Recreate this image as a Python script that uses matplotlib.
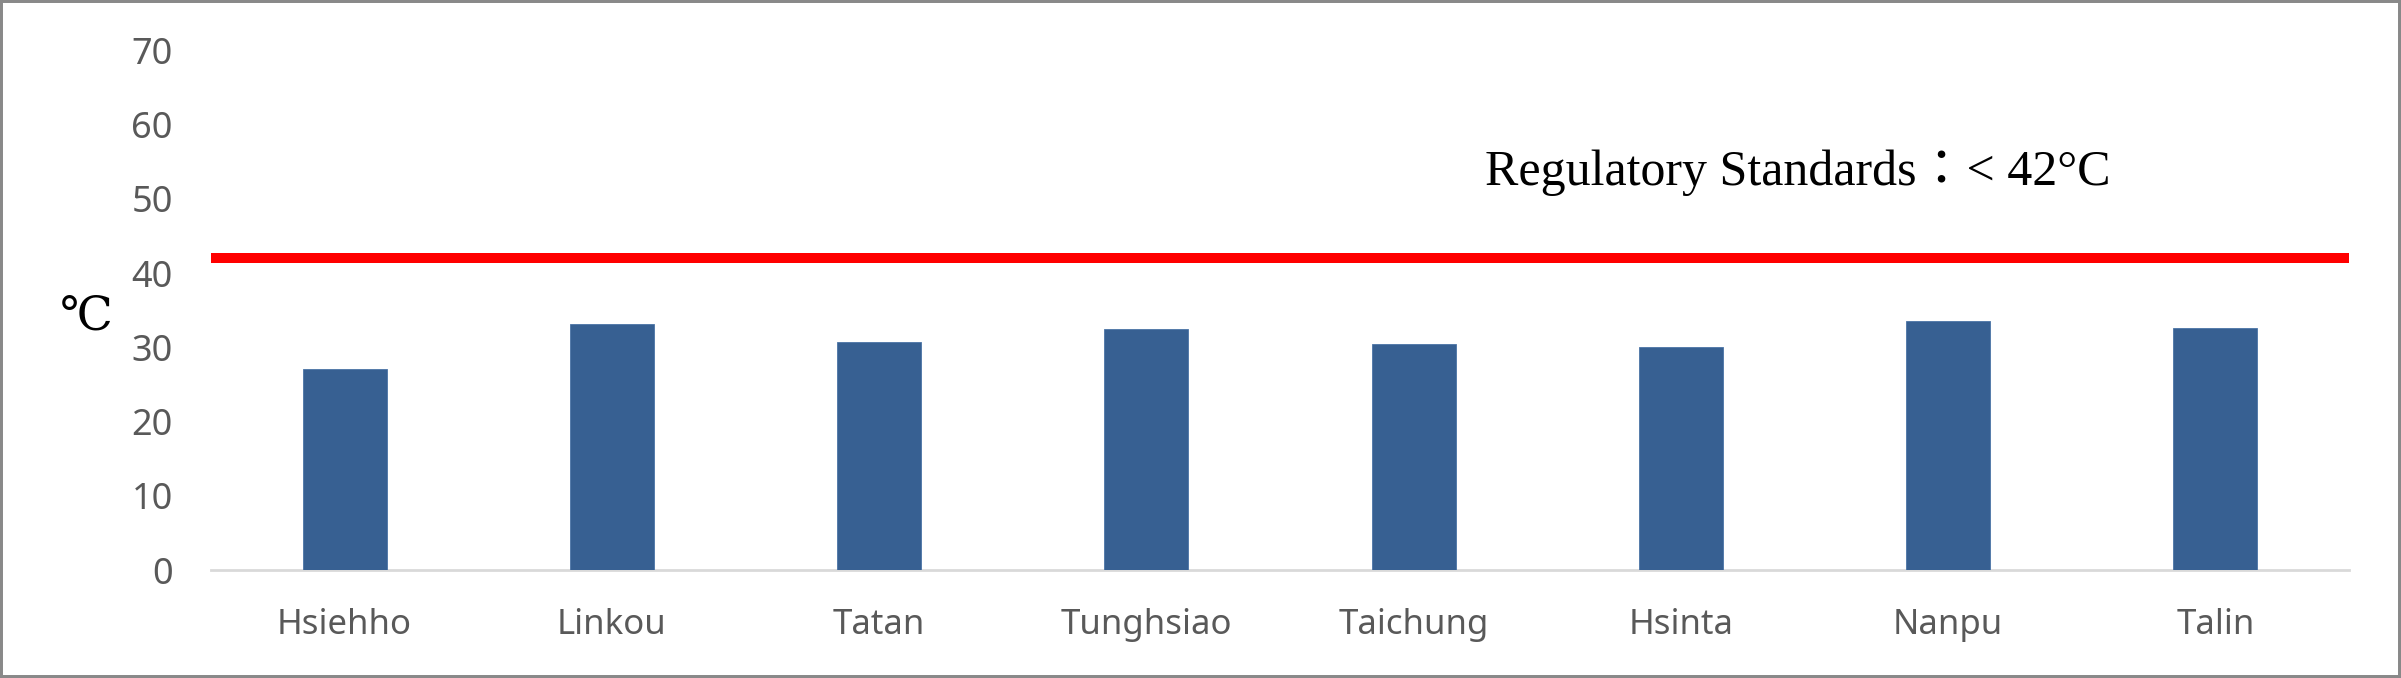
import matplotlib
matplotlib.use("Agg")
import matplotlib.pyplot as plt
from matplotlib.patches import Rectangle

# ---- data ----
stations = ["Hsiehho", "Linkou", "Tatan", "Tunghsiao", "Taichung", "Hsinta", "Nanpu", "Talin"]
temps = [27.1, 33.1, 30.7, 32.4, 30.5, 30.0, 33.5, 32.6]
standard = 42
yticks = [0, 10, 20, 30, 40, 50, 60, 70]
annotation = "Regulatory Standards\uff1a< 42\u00b0C"
unit_label = "\u2103"

W, H = 2401, 678
fig = plt.figure(figsize=(W / 100, H / 100), dpi=100)
fig.patch.set_facecolor("white")

left_px, right_px = 211, 2349
bottom_px, top_px = 570, 50.3
ax = fig.add_axes([left_px / W, (H - bottom_px) / H,
                   (right_px - left_px) / W, (bottom_px - top_px) / H])

x = list(range(len(stations)))
ax.bar(x, temps, width=0.314, color="#376092", edgecolor="#4a74a6", linewidth=0.6, zorder=3)
ax.plot([-0.5, len(stations) - 0.5], [standard, standard], color="#ff0000",
        linewidth=7.2, solid_capstyle="butt", zorder=4, clip_on=False)

ax.set_xlim(-0.5, len(stations) - 0.5)
ax.set_ylim(0, 70)
ax.set_yticks(yticks)
ax.set_yticklabels([str(v) for v in yticks])
ax.set_xticks(x)
ax.set_xticklabels(stations)

for lab in ax.get_yticklabels():
    lab.set_fontfamily("Noto Sans")
    lab.set_fontsize(26)
    lab.set_color("#595959")
for lab in ax.get_xticklabels():
    lab.set_fontfamily("Noto Sans")
    lab.set_fontsize(25)
    lab.set_color("#595959")
ax.tick_params(axis="y", length=0, pad=27.6)
ax.tick_params(axis="x", length=0, pad=27)

for s in ["top", "left", "right"]:
    ax.spines[s].set_visible(False)
ax.spines["bottom"].set_color("#d9d9d9")
ax.spines["bottom"].set_linewidth(2.0)
ax.set_facecolor("white")

# unit label
fig.text(86 / W, 1 - 318 / H, unit_label, ha="center", va="center",
         fontsize=34, family=["Liberation Serif", "DejaVu Serif", "Noto Sans CJK TC"], color="black")

# annotation
fig.text(1485 / W, 1 - 185 / H, annotation, ha="left", va="baseline",
         fontsize=36, family=["Liberation Serif", "Noto Sans CJK TC"], color="black")

# outer border
fig.patches.append(Rectangle((0, 0), 1, 1, transform=fig.transFigure, fill=False,
                             edgecolor="#898989", linewidth=4.3, zorder=10))

fig.savefig("out.png", dpi=100)
